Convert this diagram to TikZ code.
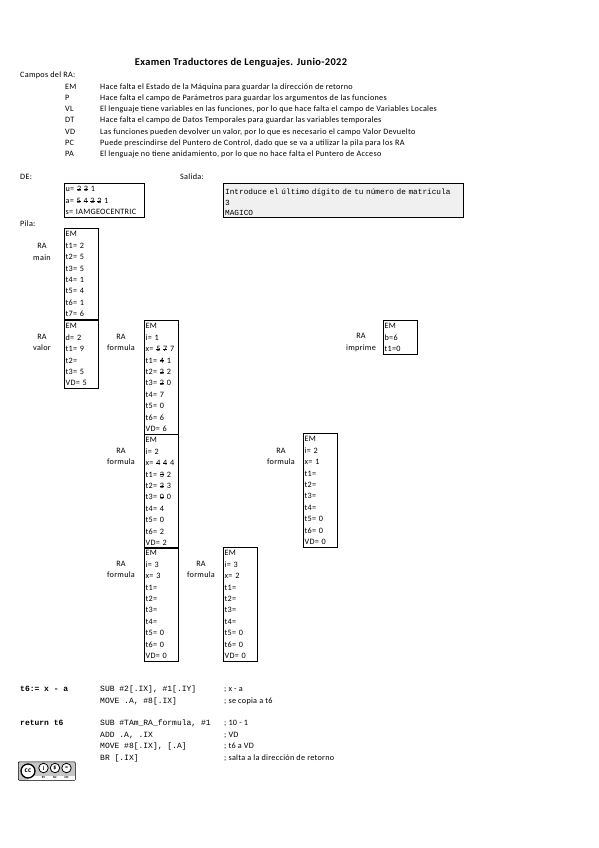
\documentclass[tikz,border=0pt]{standalone}
\usepackage{fontspec}
\setmainfont{Carlito}[LetterSpace=3.4]
\setmonofont{Liberation Mono}
\usetikzlibrary{positioning}
% tachado de valores antiguos
\newcommand{\tach}[1]{\setbox0\hbox{#1}\rlap{\rule[0.28em]{\wd0}{0.35pt}}\box0\relax}
\begin{document}
\begin{tikzpicture}[x=1pt, y=-1pt,
    every node/.style={inner sep=0pt, font=\fontsize{8.2}{11.4}\selectfont},
    plain/.style={anchor=base west},
    titulo/.style={anchor=base, font=\fontsize{10.4}{12}\selectfont\bfseries},
    ralabel/.style={align=center},
    rows/.style={execute at begin node={\rule{0pt}{8.5pt}}, execute at end node={\rule[-2.9pt]{0pt}{2.9pt}}},
    pila/.style={rows, draw=black, line width=0.8pt, anchor=north west, align=left, text width=31.5pt, inner xsep=1.25pt},
    caja/.style={rows, draw=black, line width=0.8pt, anchor=north west, align=left, text width=77.5pt, inner xsep=1.25pt},
    salida/.style={draw=black, line width=1.3pt, fill=gray!12, anchor=north west, align=left, text width=237pt, inner xsep=1.5pt, font=\fontsize{7.75}{10.2}\ttfamily, execute at begin node={\rule{0pt}{11.3pt}}, execute at end node={\rule[-2.3pt]{0pt}{2.3pt}}},
    codigo/.style={anchor=base west, font=\fontsize{8}{9}\ttfamily},
    codigob/.style={anchor=base west, font=\fontsize{8}{9}\ttfamily\bfseries},
    icono/.style={circle, draw=black, line width=0.8pt, fill=white, minimum size=9.5pt, font=\fontsize{6}{6}\selectfont\bfseries},
    sigla/.style={font=\fontsize{3}{3}\selectfont\bfseries}
]
    \useasboundingbox (0,0) rectangle (599,848);
    \fill[white] (0,0) rectangle (599,848);

    % Cabecera
    \node[titulo] (title) at (241,65.5) {Examen Traductores de Lenguajes. Junio-2022};
    \node[plain] (campos) at (20,78) {Campos del RA:};
    \foreach \nm/\yy/\txt in {
        EM/90/Hace falta el Estado de la Máquina para guardar la dirección de retorno,
        P/101/Hace falta el campo de Parámetros para guardar los argumentos de las funciones,
        VL/112/{El lenguaje tiene variables en las funciones, por lo que hace falta el campo de Variables Locales},
        DT/123/Hace falta el campo de Datos Temporales para guardar las variables temporales,
        VD/135/{Las funciones pueden devolver un valor, por lo que es necesario el campo Valor Devuelto},
        PC/146/{Puede prescindirse del Puntero de Control, dado que se va a utilizar la pila para los RA},
        PA/157/{El lenguaje no tiene anidamiento, por lo que no hace falta el Puntero de Acceso}}
    {
        \node[plain] (campo\nm) at (65,\yy) {\nm};
        \node[plain] (desc\nm) at (100,\yy) {\txt};
    }

    % DE y salida
    \node[plain] (de) at (20,179) {DE:};
    \node[plain] (sal) at (180,179) {Salida:};
    \node[caja] (estatica) at (64,183) {u= \tach{2} \tach{3} 1\\a= \tach{5} \tach{4} \tach{3} \tach{2} 1\\s= IAMGEOCENTRIC};
    \node[salida] (consola) at (223,183) {Introduce el último dígito de tu número de matrícula\\3\\MAGICO};
    \node[plain] (pilalabel) at (20,226) {Pila:};

    % Pila
    \node[pila] (main) at (64,228) {EM\\t1= 2\\t2= 5\\t3= 5\\t4= 1\\t5= 4\\t6= 1\\t7= 6};
    \node[pila] (valor) at (64,320) {EM\\d= 2\\t1= 9\\t2=\\t3= 5\\VD= 5};
    \node[pila] (form1) at (144,320) {EM\\i= 1\\x= \tach{5} \tach{7} 7\\t1= \tach{4} 1\\t2= \tach{2} 2\\t3= \tach{2} 0\\t4= 7\\t5= 0\\t6= 6\\VD= 6};
    \node[pila] (form2) at (144,434) {EM\\i= 2\\x= \tach{4} \tach{4} 4\\t1= \tach{3} 2\\t2= \tach{3} 3\\t3= \tach{0} 0\\t4= 4\\t5= 0\\t6= 2\\VD= 2};
    \node[pila] (form3) at (144,547) {EM\\i= 3\\x= 3\\t1=\\t2=\\t3=\\t4=\\t5= 0\\t6= 0\\VD= 0};
    \node[pila] (form4) at (223,547) {EM\\i= 3\\x= 2\\t1=\\t2=\\t3=\\t4=\\t5= 0\\t6= 0\\VD= 0};
    \node[pila] (form5) at (303,433) {EM\\i= 2\\x= 1\\t1=\\t2=\\t3=\\t4=\\t5= 0\\t6= 0\\VD= 0};
    \node[pila] (impr) at (383,320) {EM\\b=6\\t1=0};

    % Etiquetas de los RA
    \node[ralabel] (lmain) at (42,252) {RA\\main};
    \node[ralabel] (lvalor) at (42,342.5) {RA\\valor};
    \node[ralabel] (lform1) at (121,342.5) {RA\\formula};
    \node[ralabel] (lform2) at (121,456.5) {RA\\formula};
    \node[ralabel] (lform3) at (121,569.5) {RA\\formula};
    \node[ralabel] (lform4) at (201,569.5) {RA\\formula};
    \node[ralabel] (lform5) at (281,456.5) {RA\\formula};
    \node[ralabel] (limpr) at (361,342.5) {RA\\imprime};

    % Codigo
    \node[codigob] (t6) at (20,691) {t6:= x - a};
    \node[codigob] (ret) at (20,725) {return t6};
    \foreach \yy/\ins/\com in {
        691/{SUB \#2[.IX], \#1[.IY]}/{; x - a},
        703/{MOVE .A, \#8[.IX]}/{; se copia a t6},
        725/{SUB \#TAm\_RA\_formula, \#1}/{; 10 - 1},
        737/{ADD .A, .IX}/{; VD},
        748/{MOVE \#8[.IX], [.A]}/{; t6 a VD},
        760/{BR [.IX]}/{; salta a la dirección de retorno}}
    {
        \node[codigo] at (100,\yy) {\ins};
        \node[plain] at (224,\yy) {\com};
    }

    % Licencia
    \node[draw=black, line width=0.6pt, fill=gray!45, rounded corners=1pt, minimum width=57pt, minimum height=18.5pt, anchor=north west] (badge) at (18,761.5) {};
    \fill[white] (28,775.5) rectangle (74.5,779.5);
    \node[icono, line width=1.3pt, minimum size=14pt, font=\fontsize{7.5}{8}\selectfont\bfseries] (cc) at (28,771) {cc};
    \node[icono] (by) at (43.5,768) {i};
    \node[icono] (nc) at (55,768) {\$};
    \node[icono] (nd) at (66.5,768) {=};
    \node[sigla] at (43.5,777.5) {BY};
    \node[sigla] at (55,777.5) {NC};
    \node[sigla] at (66.5,777.5) {ND};
\end{tikzpicture}
\end{document}
